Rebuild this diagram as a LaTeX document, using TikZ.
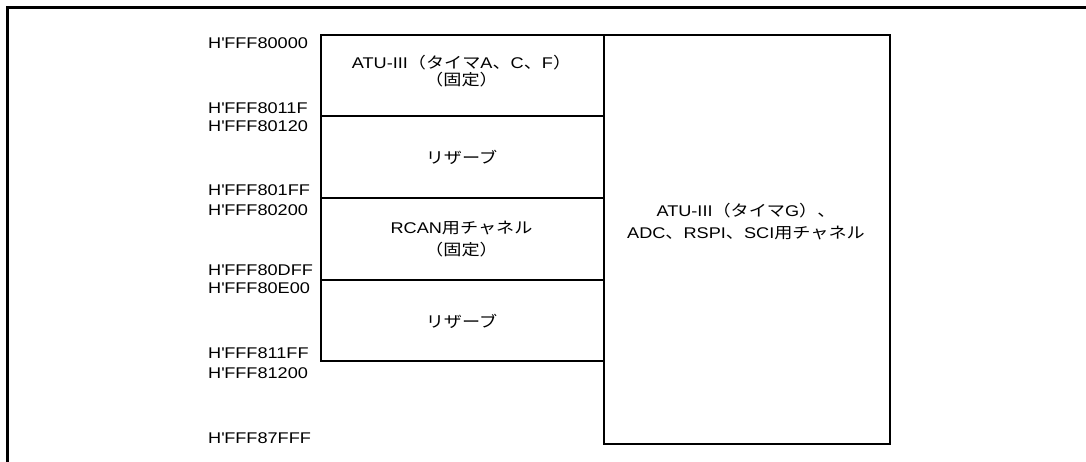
\documentclass[tikz,border=0pt]{standalone}
\usepackage{fontspec}
\setmainfont[FakeStretch=1.17]{Liberation Sans}
\newfontfamily\jpfont[FakeStretch=1.17]{Noto Sans CJK JP}
\newcommand\J[1]{{\jpfont #1}}
\newcommand\Hq{H\textquotesingle}
\begin{document}
\begin{tikzpicture}[x=1pt,y=-1pt,
  every node/.style={font=\fontsize{15.5}{18}\selectfont},
  memblock/.style={draw, line width=2.2pt, inner sep=0pt, anchor=north west},
  addr/.style={anchor=base west, inner sep=0pt},
  btext/.style={anchor=base, inner sep=0pt}]
\useasboundingbox (0,0) rectangle (1086,462);
% frame (top and left edges)
\draw[line width=3pt] (7,470) -- (7,8) -- (1090,8);
% memory blocks
\node[memblock, minimum width=283pt, minimum height=81pt] (b1) at (320,34) {};
\node[memblock, minimum width=283pt, minimum height=82pt] (b2) at (320,115) {};
\node[memblock, minimum width=283pt, minimum height=82pt] (b3) at (320,197) {};
\node[memblock, minimum width=283pt, minimum height=81pt] (b4) at (320,279) {};
\node[memblock, minimum width=286pt, minimum height=409pt] (big) at (603,34) {};
% block texts
\node[btext] (t1a) at (461.5,68.5) {ATU-III\J{（タイマ}A\J{、}C\J{、}F\J{）}};
\node[btext] (t1b) at (461.5,86) {\J{（固定）}};
\node[btext] (t2) at (461.5,163.5) {\J{リザーブ}};
\node[btext] (t3a) at (461.5,233.5) {RCAN\J{用チャネル}};
\node[btext] (t3b) at (461.5,255.5) {\J{（固定）}};
\node[btext] (t4) at (461.5,327.5) {\J{リザーブ}};
\node[btext] (t5a) at (746,216.5) {ATU-III\J{（タイマ}G\J{）、}};
\node[btext] (t5b) at (746,238.5) {ADC\J{、}RSPI\J{、}SCI\J{用チャネル}};
% address labels
\node[addr] (a1) at (208,48.5) {\Hq FFF80000};
\node[addr] (a2) at (208,114) {\Hq FFF8011F};
\node[addr] (a3) at (208,132) {\Hq FFF80120};
\node[addr] (a4) at (208,195.5) {\Hq FFF801FF};
\node[addr] (a5) at (208,215.5) {\Hq FFF80200};
\node[addr] (a6) at (208,275.5) {\Hq FFF80DFF};
\node[addr] (a7) at (208,293.5) {\Hq FFF80E00};
\node[addr] (a8) at (208,358.5) {\Hq FFF811FF};
\node[addr] (a9) at (208,378.5) {\Hq FFF81200};
\node[addr] (a10) at (208,443.5) {\Hq FFF87FFF};
\end{tikzpicture}
\end{document}
